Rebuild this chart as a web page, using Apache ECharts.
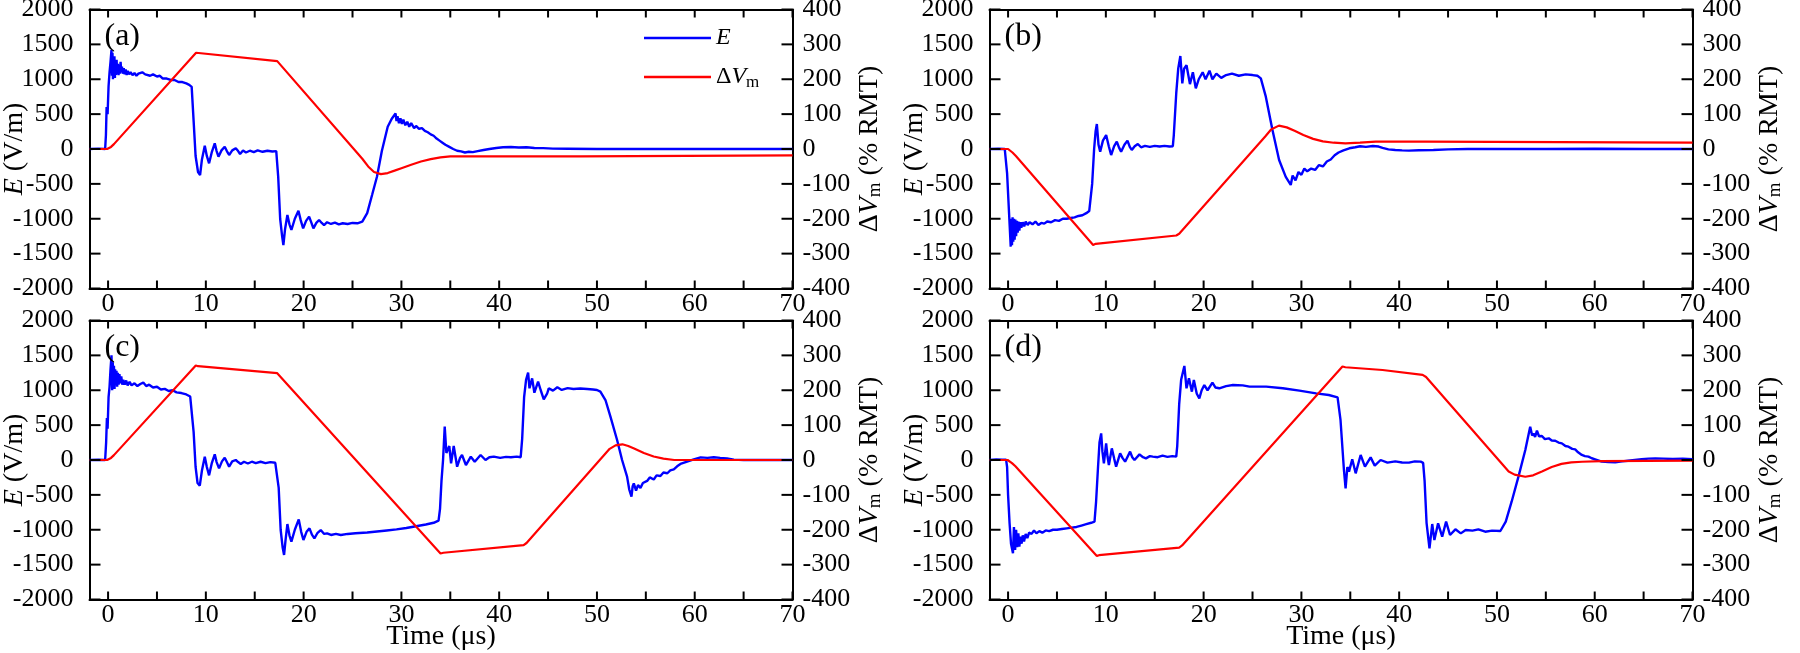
<!DOCTYPE html>
<html><head><meta charset="utf-8">
<script src="https://cdn.jsdelivr.net/npm/echarts@6/dist/echarts.min.js"></script>
<style>html,body{margin:0;padding:0;background:#fff}#c{width:1800px;height:653px}</style>
</head><body><div id="c"></div>
<script>
// ---------- tick values / labels ----------
const xTickLabels = [0, 10, 20, 30, 40, 50, 60, 70];
const xTicks = [0, 5, 10, 15, 20, 25, 30, 35, 40, 45, 50, 55, 60, 65, 70];
const yTicksE = [-2000, -1500, -1000, -500, 0, 500, 1000, 1500, 2000];
const panelLabels = ['(a)', '(b)', '(c)', '(d)'];

// ---------- panel (a) ----------
const E_a = [[-1.9,0],[-1.0,5],[-0.3,0],[-0.22,200],[-0.15,600],[-0.05,500],[0.05,900],[0.15,1100],[0.25,1250],[0.35,1420],[0.4,1050],[0.45,1380],[0.5,1000],[0.55,1300],[0.6,1050],[0.65,1330],[0.7,1020],[0.75,1250],[0.8,1060],[0.87,1280],[0.93,1080],[1.0,1220],[1.07,1060],[1.14,1200],[1.2,1080],[1.28,1250],[1.35,1100],[1.42,1180],[1.5,1080],[1.6,1160],[1.7,1070],[1.8,1140],[1.9,1060],[2.0,1120],[2.15,1070],[2.3,1100],[2.5,1060],[2.7,1090],[2.9,1050],[3.1,1080],[3.3,1060],[3.5,1100],[3.65,1120],[3.8,1070],[4.0,1090],[4.3,1050],[4.6,1070],[5.0,1040],[5.3,1050],[5.6,1010],[6.0,1010],[6.4,990],[6.8,990],[7.2,960],[7.6,960],[8.0,940],[8.3,920],[8.55,890],
[8.75,400],[8.95,-100],[9.2,-330],[9.41,-373],[9.6,-150],[9.89,48],[10.1,-100],[10.33,-205],[10.6,-50],[10.91,81],[11.1,-30],[11.29,-110],[11.6,-20],[11.93,33],[12.15,-30],[12.38,-86],[12.7,-20],[13.06,10],[13.3,-30],[13.5,-72],[13.8,-20],[14.1,-50],[14.5,-25],[14.9,-45],[15.3,-20],[15.8,-40],[16.3,-25],[16.8,-35],[17.2,-30],
[17.4,-400],[17.6,-1000],[17.8,-1250],[17.93,-1377],[18.1,-1150],[18.34,-946],[18.55,-1080],[18.75,-1161],[19.1,-1000],[19.47,-884],[19.7,-1020],[19.95,-1138],[20.25,-1030],[20.56,-970],[20.8,-1060],[21.0,-1138],[21.3,-1060],[21.58,-1018],[21.85,-1060],[22.09,-1090],[22.4,-1050],[22.8,-1075],[23.2,-1055],[23.6,-1080],[24.0,-1065],[24.5,-1075],[25.0,-1060],[25.5,-1065],[26.0,-1042],[26.5,-920],[27.0,-660],[27.5,-397],[28.0,-30],[28.6,320],[29.0,430],[29.4,511],
[29.5,400],[29.6,470],[29.75,370],[29.9,440],[30.05,360],[30.2,420],[30.4,340],[30.6,390],[30.8,320],[31.0,370],[31.3,300],[31.5,330],[31.8,290],[32.1,300],[32.4,260],[32.7,240],[33.0,210],[33.3,190],[33.6,150],[33.9,120],[34.2,90],[34.5,60],[34.9,30],[35.3,0],[35.7,-25],[36.1,-35],[36.5,-50],[36.9,-40],[37.3,-45],[37.8,-30],[38.4,-15],[39.0,0],[39.7,15],[40.4,25],[41.2,28],[42.0,22],[42.8,25],[43.6,15],[44.5,12],[45.5,6],[47,4],[50,0],[55,2],[60,0],[65,2],[70,0]];
const V_a = [[-1.9,0],[-0.1,0],[0.1,2],[0.3,6],[0.6,14],[9.0,276],[9.2,274],[17.3,252],[17.5,248],[26.0,-28],[26.6,-50],[27.2,-66],[27.9,-72],[28.6,-69],[29.3,-62],[30.0,-55],[31.0,-45],[32.0,-36],[33.0,-29],[34.0,-24],[35.0,-21],[36.0,-21],[48.3,-21],[48.4,-18],[70,-18]];

// ---------- panel (b) ----------
const E_b = [[-1.9,0],[-1.0,3],[-0.34,0],[-0.1,-349],[0.1,-922],[0.27,-1400],[0.33,-1000],[0.4,-1380],[0.46,-980],[0.53,-1330],[0.6,-1000],[0.67,-1300],[0.74,-1010],[0.82,-1250],[0.9,-1030],[0.98,-1200],[1.06,-1040],[1.15,-1170],[1.25,-1050],[1.35,-1130],[1.5,-1050],[1.65,-1110],[1.8,-1040],[2.0,-1090],[2.2,-1050],[2.5,-1080],[2.8,-1040],[3.1,-1090],[3.4,-1060],[3.7,-1070],[4.0,-1040],[4.4,-1050],[4.8,-1020],[5.2,-1030],[5.6,-1000],[6.0,-1000],[6.4,-990],[6.8,-980],[7.2,-960],[7.6,-950],[8.0,-920],[8.3,-890],[8.45,-870],
[8.6,-500],[8.8,0],[8.95,250],[9.08,358],[9.25,60],[9.42,-38],[9.7,120],[10.03,200],[10.3,40],[10.54,-86],[10.85,40],[11.12,105],[11.35,20],[11.56,-38],[11.9,60],[12.21,120],[12.45,30],[12.65,-14],[12.95,40],[13.27,72],[13.6,25],[14.0,45],[14.5,30],[15.0,45],[15.5,35],[16.0,45],[16.5,35],[16.85,40],
[16.95,200],[17.2,800],[17.4,1150],[17.62,1333],[17.82,940],[18.0,1150],[18.25,1200],[18.6,930],[18.9,1100],[19.2,870],[19.5,1000],[19.9,1100],[20.2,1000],[20.6,1123],[20.9,1000],[21.3,1080],[21.8,1020],[22.3,1060],[22.9,1080],[23.6,1050],[24.3,1070],[25.0,1060],[25.5,1050],[25.85,1013],
[26.36,750],[27.04,272],[27.72,-158],[28.4,-400],[28.91,-516],[29.1,-380],[29.4,-450],[29.7,-330],[30.0,-370],[30.3,-280],[30.6,-320],[31.0,-280],[31.4,-300],[31.8,-230],[32.2,-250],[32.6,-180],[33.0,-150],[33.4,-90],[33.8,-50],[34.3,-20],[34.9,10],[35.5,25],[36.0,40],[36.6,30],[37.3,43],[37.9,35],[38.3,15],[38.9,-5],[39.6,-14],[40.3,-20],[41.0,-24],[42.0,-18],[43.5,-14],[45.0,-5],[47,0],[50,2],[55,0],[60,3],[65,0],[70,0]];
const V_b = [[-1.9,0],[0.0,0],[0.2,-3],[0.45,-10],[0.8,-20],[8.7,-275],[8.95,-272],[17.2,-248],[17.5,-243],[26.3,36],[26.9,56],[27.7,67],[28.5,62],[29.3,52],[30.2,40],[31.2,29],[32.2,22],[33.3,18],[34.5,16],[36,18],[37.6,21],[42.7,21],[42.8,18],[70,18]];

// ---------- panel (c) ----------
const E_c = [[-1.9,0],[-1.0,4],[-0.3,0],[-0.2,250],[-0.12,600],[-0.05,450],[0.05,900],[0.15,1050],[0.25,1300],[0.35,1500],[0.42,1000],[0.48,1400],[0.54,1050],[0.6,1350],[0.66,1020],[0.72,1300],[0.79,1080],[0.86,1280],[0.93,1050],[1.0,1250],[1.08,1080],[1.16,1230],[1.25,1100],[1.35,1200],[1.45,1080],[1.55,1150],[1.7,1080],[1.85,1140],[2.0,1070],[2.2,1120],[2.4,1070],[2.7,1100],[3.0,1060],[3.3,1090],[3.6,1110],[3.9,1060],[4.2,1080],[4.6,1040],[5.0,1050],[5.4,1010],[5.8,1020],[6.2,990],[6.6,1000],[7.0,970],[7.5,960],[8.0,940],[8.4,910],[8.55,890],
[8.75,400],[8.95,-100],[9.15,-330],[9.38,-368],[9.6,-150],[9.89,48],[10.1,-100],[10.33,-220],[10.6,-50],[10.91,81],[11.1,-30],[11.35,-120],[11.65,-20],[11.93,33],[12.15,-30],[12.38,-96],[12.7,-20],[13.06,0],[13.3,-30],[13.57,-57],[13.9,-25],[14.3,-50],[14.7,-25],[15.1,-45],[15.6,-25],[16.1,-45],[16.6,-30],[17.1,-40],[17.25,-35],
[17.45,-400],[17.65,-1000],[17.85,-1250],[18.0,-1362],[18.15,-1150],[18.34,-918],[18.55,-1080],[18.75,-1171],[19.1,-1000],[19.5,-851],[19.75,-1030],[19.98,-1147],[20.3,-1030],[20.6,-980],[20.85,-1070],[21.1,-1123],[21.4,-1050],[21.75,-1004],[22.1,-1060],[22.4,-1052],[22.8,-1075],[23.3,-1060],[23.8,-1075],[24.5,-1060],[25.3,-1050],[26.5,-1040],[27.5,-1025],[28.5,-1010],[29.5,-995],[30.5,-975],[31.5,-950],[32.5,-925],[33.3,-900],[33.8,-870],
[33.95,-700],[34.1,-300],[34.26,0],[34.43,478],[34.6,100],[34.67,72],[34.9,200],[35.08,-48],[35.35,200],[35.7,-96],[36.0,30],[36.2,72],[36.6,-72],[37.1,48],[37.5,-24],[38.1,72],[38.6,0],[39.0,40],[39.45,48],[40.1,30],[40.7,45],[41.2,40],[41.8,48],[42.2,40],
[42.35,300],[42.55,900],[42.75,1150],[42.96,1252],[43.1,1028],[43.37,1171],[43.6,965],[43.98,1123],[44.25,1000],[44.56,870],[44.9,950],[45.07,1028],[45.5,994],[45.95,1042],[46.4,1004],[47.0,1030],[47.6,1018],[48.3,1025],[49.0,1018],[49.6,1010],[50.0,1004],[50.35,980],
[50.87,860],[51.38,621],[52.06,287],[52.57,0],[53.08,-239],[53.3,-420],[53.53,-526],[53.65,-380],[53.77,-335],[54.0,-440],[54.2,-360],[54.45,-400],[54.7,-330],[55.13,-300],[55.4,-250],[55.81,-280],[56.1,-220],[56.49,-230],[56.8,-180],[57.2,-190],[57.5,-150],[57.86,-134],[58.2,-90],[58.54,-57],[59.22,-24],[59.9,10],[60.6,38],[61.3,30],[61.95,40],[62.6,30],[63.3,24],[64.0,5],[65,0],[68,2],[70,0]];
const V_c = [[-1.9,0],[-0.1,0],[0.1,2],[0.3,6],[0.6,14],[8.97,271],[9.2,269],[17.3,249],[17.5,245],[34.0,-268],[34.3,-266],[42.5,-244],[42.8,-238],[51.3,32],[51.9,42],[52.6,45],[53.2,40],[53.8,33],[54.8,20],[55.8,10],[56.8,4],[57.9,0],[70,0]];

// ---------- panel (d) ----------
const E_d = [[-1.9,0],[-1.2,8],[-0.6,5],[-0.2,3],[-0.1,-100],[0.0,-500],[0.15,-900],[0.3,-1200],[0.5,-1338],[0.6,-960],[0.72,-1290],[0.82,-1000],[0.93,-1250],[1.05,-1050],[1.15,-1240],[1.27,-1100],[1.38,-1200],[1.5,-1080],[1.63,-1170],[1.8,-1060],[1.97,-1120],[2.15,-1040],[2.4,-1060],[2.65,-1010],[2.9,-1050],[3.2,-1020],[3.5,-1042],[3.85,-1010],[4.2,-1020],[4.6,-1000],[5.0,-1000],[5.5,-990],[6.0,-980],[6.5,-970],[7.0,-960],[7.5,-940],[8.0,-920],[8.5,-900],[8.84,-884],
[9.0,-600],[9.2,-100],[9.35,250],[9.52,382],[9.65,120],[9.8,-48],[10.03,239],[10.17,50],[10.31,-72],[10.61,167],[10.85,20],[11.05,-96],[11.46,96],[11.7,30],[11.97,-24],[12.48,120],[12.7,40],[12.93,0],[13.44,81],[13.8,40],[14.1,24],[14.5,55],[14.8,48],[15.3,40],[15.8,62],[16.3,45],[16.8,55],[17.2,48],
[17.3,200],[17.5,800],[17.7,1150],[18.03,1348],[18.25,1028],[18.5,1171],[18.8,980],[19.0,1147],[19.3,950],[19.56,884],[19.8,1000],[20.07,1075],[20.4,1000],[20.9,1109],[21.2,1040],[21.6,1028],[22.3,1060],[23.0,1075],[24.0,1070],[24.7,1052],[26.4,1052],[28.1,1028],[29.8,994],[31.5,956],[32.8,932],[33.7,899],
[34.0,574],[34.35,-143],[34.52,-406],[34.7,-100],[34.87,-167],[35.2,10],[35.55,-191],[36.06,72],[36.5,-96],[37.08,38],[37.5,-81],[38.1,0],[38.8,-38],[39.6,-20],[40.3,-35],[41.0,-38],[41.6,-20],[42.2,-24],[42.45,-40],
[42.6,-300],[42.8,-900],[43.1,-1267],[43.38,-918],[43.6,-1147],[43.98,-908],[44.4,-1099],[44.8,-884],[45.2,-1075],[45.75,-994],[46.3,-1052],[46.8,-1004],[47.5,-1013],[48.1,-994],[48.8,-1028],[49.5,-1013],[50.35,-1018],
[50.9,-884],[51.5,-598],[52.2,-239],[52.9,143],[53.4,478],[53.6,350],[53.75,382],[53.9,330],[54.09,420],[54.3,340],[54.6,344],[54.9,300],[55.3,311],[55.6,280],[55.96,277],[56.3,250],[56.64,239],[57.0,200],[57.32,191],[57.7,160],[58.0,153],[58.3,110],[58.68,72],[59.0,55],[59.36,48],[59.7,25],[60.04,10],[60.72,-24],[61.4,-30],[62.1,-33],[62.8,-20],[63.4,-10],[64.1,0],[64.8,10],[65.5,20],[66.2,24],[67.0,20],[68.0,15],[69.0,18],[70,12]];
const V_d = [[-1.9,0],[-0.05,0],[0.15,-3],[0.4,-9],[0.75,-18],[9.08,-275],[9.3,-273],[17.5,-251],[17.8,-245],[34.2,268],[34.5,266],[38.3,258],[42.4,244],[42.75,238],[51.2,-33],[51.8,-42],[52.9,-48],[53.7,-44],[54.6,-33],[55.6,-20],[56.6,-11],[57.6,-7],[58.7,-5],[60.7,-3],[70,-2]];

// ---------- layout ----------
const FONT = '"Liberation Serif", serif';
const W = 703, H = 279;
const X_TICK_LEN = 8, Y_TICK_LEN = 11;
const panels = [
  {E: E_a, V: V_a, left: 89.5, top: 9.5, time: false},
  {E: E_b, V: V_b, left: 989.5, top: 9.5, time: false},
  {E: E_c, V: V_c, left: 89.5, top: 320.5, time: true},
  {E: E_d, V: V_d, left: 989.5, top: 320.5, time: true}
];
function richStyles() {
  return {
    i: {fontFamily: FONT, fontStyle: 'italic', fontSize: 28, lineHeight: 30, color: '#000'},
    n: {fontFamily: FONT, fontSize: 28, lineHeight: 30, color: '#000'},
    s: {fontFamily: FONT, fontSize: 19, lineHeight: 10, verticalAlign: 'bottom', color: '#000'}
  };
}
function axLine() { return {show: true, onZero: false, lineStyle: {color: '#000', width: 2}}; }
function lbl(margin, custom) {
  const l = {margin: margin, fontFamily: FONT, fontSize: 26, color: '#000', formatter: v => String(v)};
  if (custom) l.customValues = custom;
  return l;
}
function hidden() { return {show: false}; }
const tickStroke = {stroke: '#000', lineWidth: 2};

// inward x ticks on bottom and top frame, positioned through the x scale
function xTickItem(params, api) {
  const cs = params.coordSys;
  const px = api.coord([api.value(0), api.value(1)])[0];
  const yb = cs.y + cs.height, yt = cs.y;
  return {type: 'group', children: [
    {type: 'line', shape: {x1: px, y1: yb, x2: px, y2: yb - X_TICK_LEN}, style: tickStroke},
    {type: 'line', shape: {x1: px, y1: yt, x2: px, y2: yt + X_TICK_LEN}, style: tickStroke}
  ]};
}
// inward y ticks on left and right frame (right-axis ticks share these positions)
function yTickItem(params, api) {
  const cs = params.coordSys;
  const py = api.coord([api.value(0), api.value(1)])[1];
  const xl = cs.x, xr = cs.x + cs.width;
  return {type: 'group', children: [
    {type: 'line', shape: {x1: xl, y1: py, x2: xl + Y_TICK_LEN, y2: py}, style: tickStroke},
    {type: 'line', shape: {x1: xr, y1: py, x2: xr - Y_TICK_LEN, y2: py}, style: tickStroke}
  ]};
}

const grid = [], xAxis = [], yAxis = [], series = [], title = [];
panels.forEach((p, i) => {
  grid.push({left: p.left, top: p.top, width: W, height: H, outerBoundsMode: 'none'});
  xAxis.push({
    gridIndex: i, type: 'value', min: -1.9, max: 70, position: 'bottom',
    axisLine: axLine(), axisTick: hidden(), axisLabel: lbl(3, xTickLabels),
    splitLine: hidden(),
    name: p.time ? 'Time (μs)' : '', nameLocation: 'middle', nameGap: 23, nameMoveOverlap: false,
    nameTextStyle: {fontFamily: FONT, fontSize: 28, color: '#000'}
  });
  xAxis.push({
    gridIndex: i, type: 'value', min: -1.9, max: 70, position: 'top',
    axisLine: axLine(), axisTick: hidden(), axisLabel: hidden(), splitLine: hidden()
  });
  yAxis.push({
    gridIndex: i, type: 'value', min: -2000, max: 2000, interval: 500, position: 'left',
    axisLine: axLine(), axisTick: hidden(), axisLabel: lbl(16),
    splitLine: hidden(),
    name: '{i|E}{n| (V/m)}', nameLocation: 'middle', nameRotate: 90, nameGap: 60, nameMoveOverlap: false,
    nameTextStyle: {rich: richStyles()}
  });
  yAxis.push({
    gridIndex: i, type: 'value', min: -400, max: 400, interval: 100, position: 'right',
    axisLine: axLine(), axisTick: hidden(), axisLabel: lbl(10),
    splitLine: hidden(),
    name: '{n|Δ}{i|V}{s|m}{n| (% RMT)}', nameLocation: 'middle', nameRotate: 90, nameGap: 62, nameMoveOverlap: false,
    nameTextStyle: {rich: richStyles()}
  });
  series.push({
    type: 'custom', xAxisIndex: 2 * i, yAxisIndex: 2 * i, silent: true, z: 5, clip: false,
    data: xTicks.map(t => [t, 0]), renderItem: xTickItem
  });
  series.push({
    type: 'custom', xAxisIndex: 2 * i, yAxisIndex: 2 * i, silent: true, z: 5, clip: false,
    data: yTicksE.map(v => [0, v]), renderItem: yTickItem
  });
  series.push({
    name: 'E', type: 'line', xAxisIndex: 2 * i, yAxisIndex: 2 * i, data: p.E,
    showSymbol: false, symbol: 'none', lineStyle: {color: '#0000ff', width: 2.4},
    itemStyle: {color: '#0000ff'}
  });
  series.push({
    name: 'ΔVm', type: 'line', xAxisIndex: 2 * i, yAxisIndex: 2 * i + 1, data: p.V,
    showSymbol: false, symbol: 'none', lineStyle: {color: '#ff0000', width: 2.2},
    itemStyle: {color: '#ff0000'}
  });
  title.push({
    text: panelLabels[i], left: p.left + 15, top: p.top + 11, padding: 0,
    textStyle: {fontFamily: FONT, fontSize: 32, fontWeight: 'normal', color: '#000'}
  });
});

function legendRich() {
  return {
    i: {fontFamily: FONT, fontStyle: 'italic', fontSize: 24, lineHeight: 28, color: '#000'},
    n: {fontFamily: FONT, fontSize: 24, lineHeight: 28, color: '#000'},
    s: {fontFamily: FONT, fontSize: 17, lineHeight: 10, verticalAlign: 'bottom', color: '#000'}
  };
}
function legendOf(name, top) {
  return {
    data: [name], top: top, left: 644, itemWidth: 67, itemHeight: 2.4, padding: 0,
    selectedMode: false, icon: 'rect',
    textStyle: {rich: legendRich()},
    formatter: n => n === 'E' ? '{i|E}' : '{n|Δ}{i|V}{s|m}'
  };
}
const legend = [legendOf('E', 26), legendOf('ΔVm', 65)];

echarts.init(document.getElementById('c')).setOption({
  animation: false, backgroundColor: '#fff',
  title, grid, xAxis, yAxis, series, legend
});
</script></body></html>
